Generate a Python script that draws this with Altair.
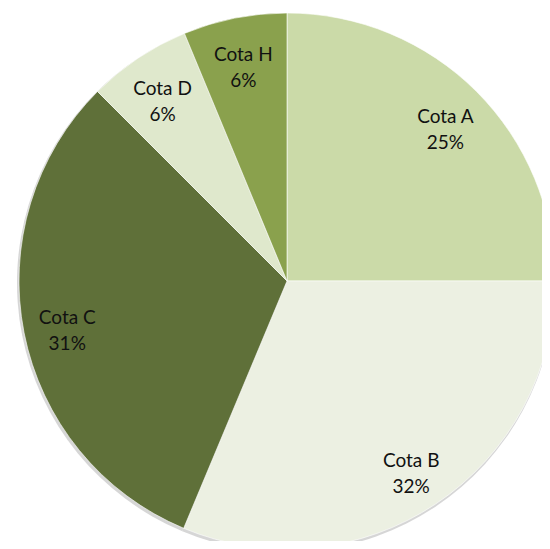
import altair as alt
import pandas as pd

categories = ["Cota A", "Cota B", "Cota C", "Cota D", "Cota H"]
values = [25, 31.3, 31.2, 6.25, 6.25]
percent_labels = ["25%", "32%", "31%", "6%", "6%"]
colors = ["#cbdaa8", "#ecf0e2", "#5f7039", "#dfe8cc", "#8aa14d"]

df = pd.DataFrame({
    "cat": categories,
    "value": values,
    "order": list(range(len(categories))),
    "label": [f"{c}\n{p}" for c, p in zip(categories, percent_labels)],
})

CX, CY, R = 279, 273, 268

theta = alt.Theta("value:Q", stack=True)
order = alt.Order("order:Q")

shadow = alt.Chart(df).mark_arc(radius=R + 1, color="#c4c4c4", opacity=0.7).encode(
    theta=theta, order=order,
    x=alt.value(CX - 1), y=alt.value(CY + 2),
)

pie = alt.Chart(df).mark_arc(radius=R, stroke="white", strokeWidth=0.6).encode(
    theta=theta, order=order,
    color=alt.Color("cat:N", scale=alt.Scale(domain=categories, range=colors), legend=None),
    x=alt.value(CX), y=alt.value(CY),
)

text = alt.Chart(df).mark_text(
    radius=224, font="Lato", fontSize=19, color="#111111",
    lineBreak="\n", lineHeight=26, align="center", baseline="middle", dy=-6,
).encode(
    theta=theta, order=order,
    text="label:N",
    x=alt.value(CX), y=alt.value(CY),
)

chart = alt.layer(shadow, pie, text).properties(
    width=534, height=533, padding=0, autosize=alt.AutoSizeParams(type="none")
).configure_view(strokeWidth=0)

chart.save("out.html", embed_options={"renderer": "svg", "actions": False})
